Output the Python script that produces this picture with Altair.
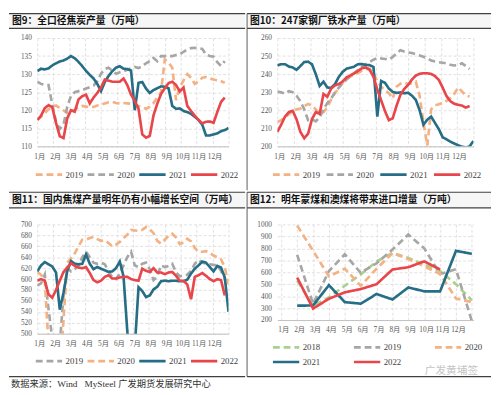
import json
import altair as alt
import pandas as pd

MONTHS = ["1月", "2月", "3月", "4月", "5月", "6月", "7月", "8月", "9月", "10月", "11月", "12月"]
WEEKS = list(range(1, 53))
P4_X = list(range(2, 14))

TITLES = ["图9：全口径焦炭产量（万吨）", "图10：247家钢厂铁水产量（万吨）",
          "图11：国内焦煤产量明年仍有小幅增长空间（万吨）", "图12：明年蒙煤和澳煤将带来进口增量（万吨）"]
SOURCE = "数据来源：Wind\u00a0\u00a0\u00a0MySteel 广发期货发展研究中心"
WATERMARK = "广发黄埔签"

YEARS4 = ["2019", "2020", "2021", "2022"]
YEARS5 = ["2018", "2019", "2020", "2021", "2022"]

# 图9 全口径焦炭产量 (weekly)
p1_2019 = [117.3, 118.2, 119.2, 120.3, 121.0, 121.3, 120.6, 120.0, 119.2, 119.5,
           120.2, 120.8, 121.2, 121.0, 120.8, 120.9, 121.3, 121.5, 121.9, 122.2,
           122.3, 122.0, 121.9, 122.0, 121.9, 121.8, 121.7, 121.2, 120.8, 120.4,
           121.0, 122.0, 123.5, 125.0, 134.1, 133.2, 131.8, 122.8, 126.3, 128.3,
           130.0, 129.0, 127.3, 128.0, 129.0, 129.2, 128.8, 128.5, 128.3, 128.0, 127.6]
p1_2020 = [127.9, 127.3, 127.0, 127.0, 121.5, 116.8, 114.8, 116.0, 121.0, 124.0,
           125.0, 125.3, 125.6, 126.0, 126.4, 126.8, 128.0, 130.1, 131.4, 131.8,
           131.0, 130.1, 130.5, 130.8, 131.2, 131.6, 132.0, 131.7, 132.2, 133.0,
           133.6, 134.5, 133.6, 135.0, 135.0, 135.0, 135.0, 135.3, 135.5, 136.2,
           136.8, 137.2, 137.3, 137.2, 137.0, 135.4, 135.0, 134.8, 133.3, 132.3, 133.6]
p1_2021 = [130.8, 131.5, 131.3, 131.6, 132.4, 133.0, 133.5, 133.8, 134.3, 135.0,
           134.4, 133.4, 132.2, 130.9, 129.8, 128.8, 127.3, 125.3, 127.8, 129.5,
           130.8, 131.8, 132.2, 131.5, 131.4, 131.0, 120.0, 127.6, 127.8, 126.0,
           124.8, 125.6, 126.1, 126.6, 126.5, 126.1, 121.2, 120.4, 120.5, 119.8,
           119.5, 119.0, 118.2, 117.3, 116.0, 113.0, 113.0, 113.3, 113.6, 114.2,
           114.5, 115.1]
p1_2022 = [117.3, 118.5, 120.6, 121.4, 120.8, 116.5, 112.8, 112.3, 117.8, 120.0,
           119.6, 123.0, 123.9, 124.3, 121.9, 123.5, 124.8, 126.3, 128.5, 128.2,
           127.9, 127.9, 127.9, 128.8, 127.0, 124.3, 122.6, 120.4, 113.3, 112.4,
           112.9, 118.6, 121.8, 124.5, 126.1, 127.5, 127.9, 127.0, 125.2, 126.3,
           121.2, 119.8, 118.5, 117.3, 116.4, 116.8, 116.9, 116.5, 119.5, 122.3, 123.5]

# 图10 247家钢厂铁水产量 (weekly)
p2_2019 = [213.5, 214.5, 216.0, 217.8, 219.5, 220.5, 221.0, 222.3, 223.5, 222.5,
           220.5, 218.0, 219.0, 221.5, 226.0, 229.5, 232.5, 235.3, 237.3, 238.6,
           239.8, 240.8, 241.8, 242.8, 243.0, 240.6, 236.0, 233.0, 231.0, 229.5,
           226.5, 233.0, 234.7, 235.3, 234.5, 235.0, 235.8, 228.0, 213.0, 200.5,
           220.5, 222.7, 223.3, 224.0, 225.2, 226.8, 229.0, 232.6, 230.5, 228.2, 227.6]
p2_2020 = [230.4, 229.9, 229.2, 230.6, 230.0, 228.0, 225.0, 220.5, 214.5, 215.0,
           213.8, 216.0, 220.5, 224.0, 226.5, 229.9, 232.5, 235.0, 237.0, 239.0,
           240.5, 242.4, 244.0, 245.5, 246.8, 248.0, 249.0, 248.7, 248.4, 248.0,
           249.5, 251.5, 253.2, 252.5, 252.0, 251.7, 251.0, 250.3, 249.6, 248.7,
           247.6, 247.0, 246.6, 246.3, 246.0, 245.2, 244.8, 245.0, 246.0, 244.5, 242.8]
p2_2021 = [244.8, 245.5, 245.5, 244.2, 243.7, 242.4, 244.5, 246.7, 246.9, 245.5,
           240.0, 233.5, 235.8, 232.6, 232.4, 234.5, 238.5, 241.3, 243.0, 243.6,
           244.2, 245.5, 245.6, 245.1, 245.0, 244.0, 216.5, 236.2, 235.2, 232.0,
           230.2, 229.6, 229.9, 229.4, 229.7, 228.1, 225.8, 220.0, 212.0, 214.8,
           216.5, 213.0, 209.5, 205.0, 203.9, 202.6, 201.6, 200.6, 199.8, 199.4,
           200.0, 203.0]
p2_2022 = [208.0, 212.0, 216.5, 219.0, 219.7, 215.0, 208.0, 204.5, 207.0, 215.0,
           219.0, 218.0, 229.0, 227.5, 232.0, 233.8, 234.5, 236.0, 238.2, 239.3,
           240.5, 241.8, 243.3, 243.7, 242.4, 238.5, 231.5, 225.5, 219.5, 214.5,
           215.5, 222.5, 228.5, 231.8, 234.0, 237.0, 239.2, 240.2, 240.5, 240.5,
           240.1, 238.9, 236.8, 232.5, 227.8, 225.0, 223.6, 223.0, 222.6, 221.5, 222.3]

# 图11 国内焦煤产量 (weekly)
p3_2019 = [588, 592, 608, 545, 490, 440, 480, 570, 620, 614,
           618, 625, 640, 650, 640, 630, 628, 630, 627, 615,
           603, 600, 610, 625, 640, 650, 625, 622, 628, 630,
           618, 598, 605, 625, 622, 624, 628, 612, 605, 606,
           608, 615, 628, 635, 630, 628, 627, 626, 625, 615, 600]
p3_2020 = [613, 608, 598, 480, 420, 400, 430, 525, 630, 638,
           647, 660, 672, 672, 675, 677, 673, 670, 671, 666,
           660, 663, 668, 675, 681, 690, 689, 688, 690, 695,
           691, 684, 670, 665, 672, 679, 683, 676, 664, 667,
           674, 669, 657, 650, 650, 651, 648, 643, 640, 636,
           622, 590]
p3_2021 = [614, 625, 631, 627, 623, 612, 544, 575, 615, 633,
           628, 627, 628, 645, 628, 618, 622, 619, 616, 613,
           614, 620, 632, 605, 505, 430, 475, 585, 578, 567,
           570, 581, 586, 596, 597, 596, 597, 597, 596, 596,
           599, 610, 619, 625, 632, 630, 622, 614, 624, 621,
           603, 540]
p3_2022 = [597, 600, 597, 572, 566, 580, 597, 613, 621, 629,
           624, 621, 620, 622, 611, 598, 594, 597, 604, 607,
           601, 601, 603, 604, 604, 600, 598, 597, 619, 615,
           613, 620, 612, 612, 609, 612, 613, 606, 597, 597,
           590, 563, 604, 607, 611, 606, 600, 596, 600, 598, 570]

# 图12 进口增量 (monthly)
p4_2018 = [530, 320, 390, 487, 582, 690, 760, 720, 665, 610, 500, 364]
p4_2019 = [745, 335, 610, 750, 595, 675, 790, 915, 800, 585, 625, 190]
p4_2020 = [990, 780, 565, 630, 487, 630, 760, 710, 650, 585, 380, 350]
p4_2021 = [320, 322, 492, 350, 337, 418, 372, 473, 440, 440, 779, 754]
p4_2022 = [555, 296, 378, 432, 459, 500, 623, 642, 691, 623]

ORANGE, GRAY, TEAL, RED, GREEN = "#f4b183", "#a6a6a6", "#266e85", "#e8464b", "#a9d18e"
DASH, SOLID = [7, 4], [1, 0]
FONT_NUM = "Liberation Serif, Noto Sans CJK SC"
FONT_CJK = "Noto Sans CJK SC"
GRID, LABEL, LINE, STRIP = "#d9d9d9", "#595959", "#404040", "#f6f6f6"

MONTHS_JS = json.dumps(MONTHS, ensure_ascii=False)
WEEK_TICKS = [1 + k * 51 / 12 for k in range(13)]
WEEK_EXPR = MONTHS_JS + "[round((datum.value - 1) * 12 / 51)] || ''"
P4_TICKS = list(range(1, 14))
P4_EXPR = MONTHS_JS + "[datum.value - 1] || ''"

ONE = pd.DataFrame({"k": [0]})


def rule_h(x1, x2, y, color=LINE, w=1.3):
    return alt.Chart(ONE).mark_rule(color=color, strokeWidth=w).encode(
        x=alt.value(x1), x2=alt.value(x2), y=alt.value(y))


def rule_v(x, y1, y2, color="#595959", w=1):
    return alt.Chart(ONE).mark_rule(color=color, strokeWidth=w).encode(
        x=alt.value(x), y=alt.value(y1), y2=alt.value(y2))


def rect(x1, x2, y1, y2, fill, opacity=1.0):
    return alt.Chart(ONE).mark_rect(fill=fill, opacity=opacity).encode(
        x=alt.value(x1), x2=alt.value(x2), y=alt.value(y1), y2=alt.value(y2))


def text(x, y, s, size, weight="normal", color="#000000", font=FONT_CJK):
    return alt.Chart(ONE).mark_text(align="left", baseline="middle", fontSize=size,
                                    fontWeight=weight, color=color, font=font).encode(
        x=alt.value(x), y=alt.value(y), text=alt.value(s))


def frame(left, right, top, strip_bottom, title, title_x, divider, extra=()):
    parts = [rect(left, right, top, 156, "#ffffff", 0.0),
             rect(left, right, top, strip_bottom, STRIP),
             rule_h(left, right, top, w=1.2),
             rule_h(left, right, strip_bottom),
             text(title_x, (top + strip_bottom) / 2 + 0.5, title, 10, "bold", "#111111")]
    if top < -30:
        parts.append(rule_h(left, right, 156))
    if divider:
        parts.append(rule_v(left, top, 156))
    parts.extend(extra)
    return parts


def panel(xs, series, years, colors, dashes, xdom, xvals, xexpr, ydom, yvals,
          w, h, leg, deco):
    rows = []
    for name, vals in zip(years, series):
        for x, v in zip(xs, vals):
            rows.append({"x": x, "v": v, "s": name})
    df = pd.DataFrame(rows)
    lx, ly, cols, cpad = leg
    legend = alt.Legend(title=None, orient="none", legendX=lx, legendY=ly,
                        direction="horizontal", columns=cols, symbolType="stroke",
                        symbolSize=729, symbolStrokeWidth=2.8, clipHeight=12,
                        labelFont=FONT_NUM, labelFontSize=9, labelColor="#404040",
                        labelOffset=2, columnPadding=cpad, rowPadding=3, padding=0)
    xaxis = alt.Axis(values=xvals, labelExpr=xexpr, title=None, grid=True,
                     gridColor=GRID, gridDash=[3, 2], gridWidth=0.8,
                     domain=True, domainColor="#bfbfbf", domainWidth=1,
                     ticks=False, tickSize=0, labelFont=FONT_NUM, labelFontSize=7.5,
                     labelColor=LABEL, labelPadding=6, labelOffset=2,
                     labelFlush=False, labelOverlap=False, labelBound=False)
    yaxis = alt.Axis(values=yvals, format="d", title=None, grid=True,
                     gridColor=GRID, gridDash=[3, 2], gridWidth=0.8,
                     domain=False, ticks=False, tickSize=0, labelFont=FONT_NUM,
                     labelFontSize=7.5, labelColor=LABEL, labelPadding=6,
                     labelOverlap=False, labelFlush=False)
    lines = alt.Chart(df).mark_line(strokeWidth=2.7, clip=True).encode(
        x=alt.X("x:Q", scale=alt.Scale(domain=xdom, nice=False, zero=False), axis=xaxis),
        y=alt.Y("v:Q", scale=alt.Scale(domain=ydom, nice=False, zero=False), axis=yaxis),
        color=alt.Color("s:N", scale=alt.Scale(domain=years, range=colors), legend=legend),
        strokeDash=alt.StrokeDash("s:N", scale=alt.Scale(domain=years, range=dashes), legend=legend),
    )
    return alt.layer(*deco, lines).properties(width=w, height=h)


p1 = panel(WEEKS, [p1_2019, p1_2020, p1_2021, p1_2022], YEARS4,
           [ORANGE, GRAY, TEAL, RED], [DASH, DASH, SOLID, SOLID],
           [1, 52], WEEK_TICKS, WEEK_EXPR, [110, 140], list(range(110, 141, 5)),
           196, 111, (-3, 134, 4, 3),
           frame(-29, 213, -25, -10, TITLES[0], -26, False))

p2 = panel(WEEKS, [p2_2019, p2_2020, p2_2021, p2_2022], YEARS4,
           [ORANGE, GRAY, TEAL, RED], [DASH, DASH, SOLID, SOLID],
           [1, 52], WEEK_TICKS, WEEK_EXPR, [200, 260], list(range(200, 261, 10)),
           201, 111, (-6, 134, 4, 5),
           frame(-31, 219, -25, -10, TITLES[1], -28, True))

p3 = panel(WEEKS, [p3_2019, p3_2020, p3_2021, p3_2022], YEARS4,
           [GRAY, ORANGE, TEAL, RED], [DASH, DASH, SOLID, SOLID],
           [1, 52], WEEK_TICKS, WEEK_EXPR, [500, 700], list(range(500, 701, 20)),
           196, 112, (-3, 134, 4, 3),
           frame(-29, 213, -33, -17, TITLES[2], -26, False,
                 [text(-27, 164, SOURCE, 9.5, "normal", "#333333", FONT_NUM)]))

p4 = panel(P4_X, [p4_2018, p4_2019, p4_2020, p4_2021, p4_2022], YEARS5,
           [GREEN, GRAY, ORANGE, TEAL, RED], [DASH, DASH, DASH, SOLID, SOLID],
           [0.75, 13.1], P4_TICKS, P4_EXPR, [200, 1000], list(range(200, 1001, 100)),
           201, 98, (-6, 120, 3, 33),
           frame(-31, 219, -33, -17, TITLES[3], -28, True,
                 [text(151, 150, WATERMARK, 11, "normal", "#c4c4c4", FONT_CJK)]))

INDEP = dict(color="independent", strokeDash="independent", x="independent", y="independent")

top = alt.hconcat(p1, p2, spacing=0).resolve_scale(**INDEP).resolve_legend(
    color="independent", strokeDash="independent")
bottom = alt.hconcat(p3, p4, spacing=0).resolve_scale(**INDEP).resolve_legend(
    color="independent", strokeDash="independent")
chart = (alt.vconcat(top, bottom, spacing=0)
         .resolve_scale(**INDEP)
         .resolve_legend(color="independent", strokeDash="independent")
         .properties(padding=0)
         .configure_view(stroke=None))

chart.save("out.html", embed_options={"renderer": "svg", "actions": False})
